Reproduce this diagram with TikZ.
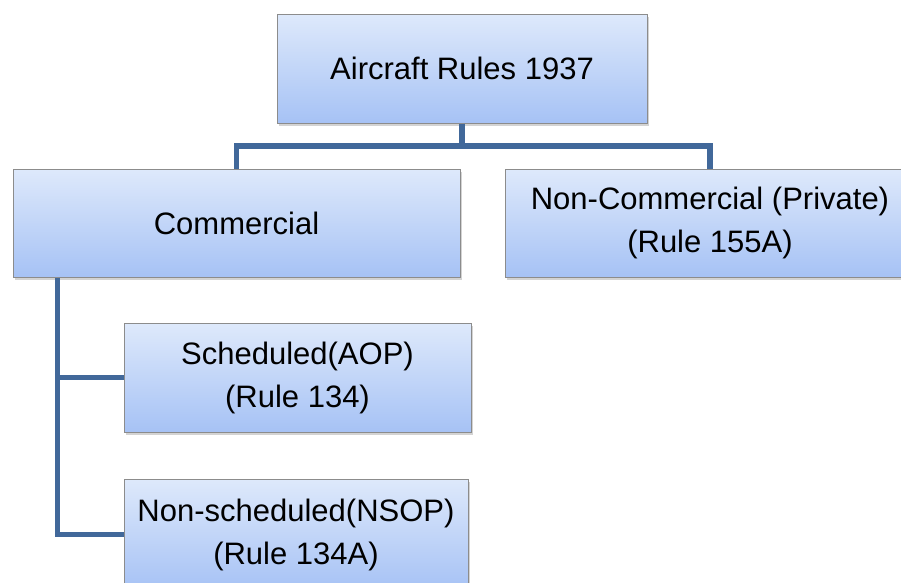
\documentclass[tikz,border=0pt]{standalone}
\usepackage{fontspec}
\setmainfont{Liberation Sans}
\usetikzlibrary{shadows}
\definecolor{boxtop}{HTML}{DEE9FB}
\definecolor{boxbot}{HTML}{A6C2F5}
\definecolor{boxborder}{HTML}{8C8C8C}
\definecolor{conncol}{HTML}{41689A}
\begin{document}
\begin{tikzpicture}[x=1pt,y=-1pt,
  box/.style={draw=boxborder, line width=1pt, top color=boxtop, bottom color=boxbot,
    inner sep=0pt, align=center, font=\fontsize{31}{43}\selectfont,
    drop shadow={shadow xshift=1.5pt, shadow yshift=-2.5pt, opacity=0.35}},
  conn/.style={draw=conncol, line width=5.5pt, line join=miter}]
\useasboundingbox (0,0) rectangle (901,582);
\clip (0,0) rectangle (901,582);
\node[box, minimum width=370pt, minimum height=109pt] (top) at (462,68.5) {Aircraft Rules 1937};
\node[box, minimum width=447pt, minimum height=108pt] (comm) at (236.5,223) {Commercial};
\node[box, minimum width=410pt, minimum height=108pt] (priv) at (710,223) {Non-Commercial (Private)\\(Rule 155A)};
\node[box, minimum width=347pt, minimum height=109pt] (sched) at (297.5,377.5) {Scheduled(AOP)\\(Rule 134)};
\node[box, minimum width=344pt, minimum height=111pt] (nsched) at (296,534.5) {Non-scheduled(NSOP)\\(Rule 134A)};
\coordinate (bus) at (462,146);
\coordinate (trunk) at ([xshift=45pt]comm.south west);
\draw[conn] (top.south) -- (bus);
\draw[conn] (comm.north) |- (bus) -| (priv.north);
\draw[conn] (trunk) |- (nsched.west);
\draw[conn] (trunk |- sched.west) -- (sched.west);
\end{tikzpicture}
\end{document}
